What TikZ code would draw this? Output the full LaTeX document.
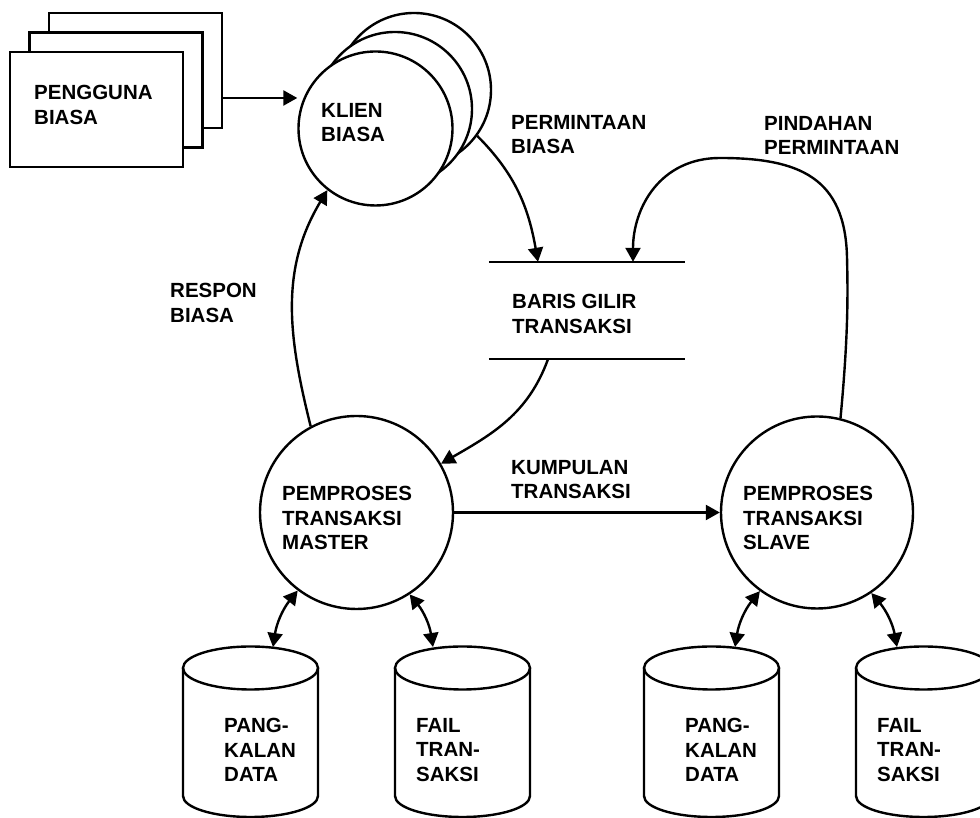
\documentclass[tikz,border=0pt]{standalone}
\usepackage{fontspec}
\setmainfont{Liberation Sans}
\usetikzlibrary{arrows.meta}

\begin{document}
\begin{tikzpicture}[x=1pt, y=1pt, line width=2.4pt,
    lbl/.style={font=\bfseries\fontsize{20.5}{24.5}\selectfont, align=left, inner sep=0pt, anchor=north west},
    proses/.style={draw, circle, fill=white},
    doc/.style={draw, rectangle, fill=white, minimum width=173pt, minimum height=115pt},
    flow/.style={-{Triangle[length=14pt,width=15pt]}},
    dflow/.style={{Triangle[length=14pt,width=15pt]}-{Triangle[length=14pt,width=15pt]}}]
\useasboundingbox (0,0) rectangle (980,818);

% Pengguna biasa (stacked)
\node[doc] (pengguna) at (135.5,747.5) {};
\node[doc] (pengguna2) at (116,728) {};
\node[doc] (pengguna1) at (96.5,708.5) {};
\node[lbl] (tpengguna) at (33,734) {PENGGUNA\\BIASA};

% Klien biasa (stacked)
\node[proses, minimum size=154pt] (klien3) at (414,728) {};
\node[proses, minimum size=154pt] (klien2) at (395,709) {};
\node[proses, minimum size=154pt] (klien) at (375.5,689.5) {};
\node[lbl] (tklien) at (320,716) {KLIEN\\BIASA};

% Baris gilir
\node[minimum width=194pt, minimum height=95pt, inner sep=0pt] (baris) at (587,507.5) {};
\draw (baris.north west) -- (baris.north east);
\draw (baris.south west) -- (baris.south east);
\node[lbl] (tbaris) at (511,525) {BARIS GILIR\\TRANSAKSI};

% Pemproses
\node[proses, minimum size=193pt] (master) at (356.5,305.5) {};
\node[lbl] (tmaster) at (281,333) {PEMPROSES\\TRANSAKSI\\MASTER};
\node[proses, minimum size=192pt] (slave) at (817,305.5) {};
\node[lbl] (tslave) at (742,333) {PEMPROSES\\TRANSAKSI\\SLAVE};

% Storan data
\foreach \cx in {250.5, 462.5, 711.5, 923.5}{
    \draw[fill=white] (\cx-67.5,150) -- (\cx-67.5,22)
        arc[start angle=180, end angle=360, x radius=67.5, y radius=21] -- (\cx+67.5,150);
    \draw (\cx,150) ellipse [x radius=67.5, y radius=21.5];
}
\coordinate (db1) at (273,171);
\coordinate (fail1) at (433,171);
\coordinate (db2) at (735,171);
\coordinate (fail2) at (897,171);
\node[lbl] (tdb1) at (223,101) {PANG-\\KALAN\\DATA};
\node[lbl] (tfail1) at (415,101) {FAIL\\TRAN-\\SAKSI};
\node[lbl] (tdb2) at (684,101) {PANG-\\KALAN\\DATA};
\node[lbl] (tfail2) at (876,101) {FAIL\\TRAN-\\SAKSI};

% Labels
\node[lbl] (lpermintaan) at (510,704) {PERMINTAAN\\BIASA};
\node[lbl] (lpindahan) at (763,703) {PINDAHAN\\PERMINTAAN};
\node[lbl] (lrespon) at (169,536) {RESPON\\BIASA};
\node[lbl] (lkumpulan) at (510,359) {KUMPULAN\\TRANSAKSI};

% Connections
\draw[flow] ([yshift=-27.5pt]pengguna.east) -- ([yshift=-27.5pt]pengguna.east -| klien.west);
\draw[flow] (klien3.-36) to[out=-45, in=100] ([xshift=-49pt]baris.north);
\draw[flow] (slave.76) .. controls (848,480) and (848,520) .. (847,561)
    .. controls (845,640) and (800,660) .. (720,660)
    .. controls (660,660) and (633,610) .. ([xshift=46pt]baris.north);
\draw[flow] ([xshift=-39pt]baris.south) to[out=250, in=30] (master.30);
\draw[flow] (master.118) to[out=104, in=239] (klien.232);
\draw[flow] (master) -- (slave);

\draw[dflow] (master.233) to[bend right=15] (db1);
\draw[dflow] (master.303) to[bend left=15] (fail1);
\draw[dflow] (slave.234) to[bend right=15] (db2);
\draw[dflow] (slave.304) to[bend left=15] (fail2);
\end{tikzpicture}
\end{document}
